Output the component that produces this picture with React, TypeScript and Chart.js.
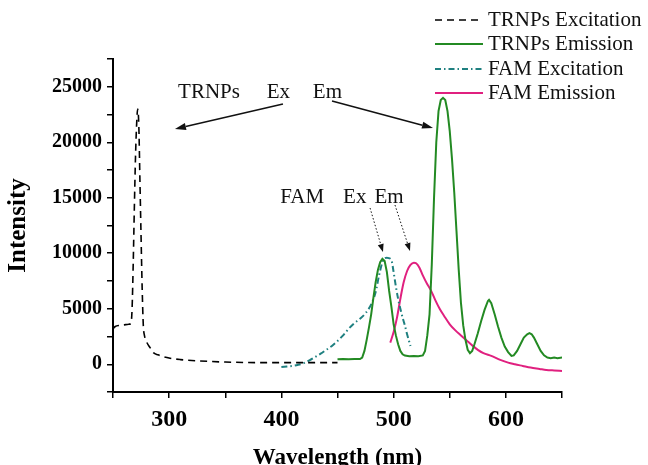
import React, { useEffect, useRef } from 'react';
import { Chart, registerables } from 'chart.js';

Chart.register(...registerables);

// ---------- data ----------
const trnpsExWl = [250, 252, 256, 260, 264, 266, 267, 268, 269, 270, 271, 272, 273, 274, 275, 276, 277, 278, 280, 283, 286, 290, 298, 310, 327, 350, 380, 410, 430, 450];
const trnpsExInt = [3200, 3400, 3500, 3550, 3600, 3700, 5000, 9000, 14000, 18500, 21500, 23000, 21500, 16500, 11500, 6800, 3500, 2600, 2000, 1500, 1050, 850, 600, 420, 300, 200, 150, 150, 150, 150];

const trnpsEmWl = [450, 455, 460, 465, 470, 472, 474, 476, 478, 480, 482, 484, 486, 488, 490, 492, 494, 496, 498, 500, 502, 504, 506, 508, 510, 514, 518, 522, 526, 528, 530, 532, 534, 536, 538, 540, 542, 544, 546, 548, 550, 552, 554, 556, 558, 560, 562, 564, 566, 568, 570, 572, 575, 578, 581, 584, 585, 587, 590, 593, 596, 599, 602, 605, 607, 610, 613, 616, 619, 621, 623, 625, 628, 631, 634, 637, 640, 643, 646, 650];
const trnpsEmInt = [450, 480, 450, 480, 470, 600, 1200, 2200, 3300, 4500, 6000, 7400, 8500, 9200, 9500, 9300, 8300, 6600, 5200, 3600, 2600, 1800, 1200, 900, 780, 720, 750, 720, 800, 1200, 2600, 4500, 9000, 15000, 20000, 22800, 23800, 24000, 23800, 22800, 21000, 18500, 15500, 12000, 8500, 5500, 3500, 2200, 1300, 1000, 1200, 1800, 2800, 3900, 4900, 5700, 5800, 5500, 4500, 3400, 2400, 1600, 1100, 750, 800, 1200, 1800, 2400, 2700, 2800, 2700, 2400, 1800, 1200, 800, 600, 550, 600, 550, 600];

const famExWl = [400, 405, 410, 415, 420, 425, 430, 435, 440, 445, 450, 455, 460, 465, 470, 475, 480, 484, 487, 490, 492, 494, 496, 498, 500, 502, 504, 506, 508, 510, 512, 515];
const famExInt = [-250, -200, -150, -50, 100, 350, 650, 950, 1300, 1650, 2100, 2600, 3200, 3700, 4100, 4600, 5400, 6500, 8000, 9200, 9550, 9600, 9550, 9400, 8300, 7000, 5900, 5000, 4200, 3500, 2700, 1650];

const famEmWl = [497, 500, 503, 506, 509, 512, 515, 518, 520, 523, 526, 530, 533, 537, 541, 545, 550, 555, 560, 565, 570, 575, 580, 587, 595, 602, 608, 615, 622, 630, 636, 643, 650];
const famEmInt = [1950, 2900, 4200, 5900, 7400, 8400, 8950, 9150, 9100, 8700, 8000, 7200, 6700, 5800, 5000, 4350, 3600, 3050, 2600, 2150, 1700, 1300, 1000, 750, 400, 150, 0, -150, -300, -420, -510, -560, -600];

const seriesNames = ['TRNPs Excitation', 'TRNPs Emission', 'FAM Excitation', 'FAM Emission'];
const xLabelTicks = [300, 400, 500, 600];
const yLabelTicks = [0, 5000, 10000, 15000, 20000, 25000];

const SERIF = "'Liberation Serif', 'Times New Roman', serif";
const BLACK = '#000000';
const GREEN = '#238a23';
const TEAL = '#1f8080';
const MAGENTA = '#e0207f';

const pts = (xs: number[], ys: number[]) => xs.map((x, i) => ({ x, y: ys[i] }));

function arrow(ctx: CanvasRenderingContext2D, x1: number, y1: number, x2: number, y2: number, dotted: boolean) {
  const ang = Math.atan2(y2 - y1, x2 - x1);
  const hl = dotted ? 8 : 11;
  const hw = dotted ? 3 : 3.5;
  const bx = x2 - hl * Math.cos(ang);
  const by = y2 - hl * Math.sin(ang);
  ctx.save();
  ctx.strokeStyle = '#111';
  ctx.fillStyle = '#111';
  ctx.lineWidth = dotted ? 1 : 1.5;
  ctx.setLineDash(dotted ? [1.5, 2] : []);
  ctx.beginPath();
  ctx.moveTo(x1, y1);
  ctx.lineTo(bx, by);
  ctx.stroke();
  ctx.setLineDash([]);
  ctx.beginPath();
  ctx.moveTo(x2, y2);
  ctx.lineTo(bx + hw * Math.sin(ang), by - hw * Math.cos(ang));
  ctx.lineTo(bx - hw * Math.sin(ang), by + hw * Math.cos(ang));
  ctx.closePath();
  ctx.fill();
  ctx.restore();
}

const decorPlugin = {
  id: 'decor',
  afterDraw(chart: any) {
    const ctx: CanvasRenderingContext2D = chart.ctx;
    const xs = chart.scales.x;
    const ys = chart.scales.y;
    const X = (v: number) => xs.getPixelForValue(v);
    const Y = (v: number) => ys.getPixelForValue(v);

    // annotations
    ctx.save();
    ctx.fillStyle = '#111';
    ctx.font = `21px ${SERIF}`;
    ctx.textBaseline = 'alphabetic';
    ctx.textAlign = 'left';
    ctx.fillText('TRNPs', X(308), Y(24000));
    ctx.fillText('Ex', X(387), Y(24000));
    ctx.fillText('Em', X(428), Y(24000));
    ctx.fillText('FAM', X(399), Y(14500));
    ctx.fillText('Ex', X(455), Y(14500));
    ctx.fillText('Em', X(483), Y(14500));
    ctx.restore();

    arrow(ctx, X(401.4), Y(23446), X(305.2), Y(21193), false);
    arrow(ctx, X(445.1), Y(23716), X(535.1), Y(21284), false);
    arrow(ctx, X(479), Y(14077), X(490.5), Y(10113), true);
    arrow(ctx, X(501.2), Y(14347), X(514.6), Y(10203), true);

    // legend
    const rowsY = [20, 44, 69, 93];
    ctx.save();
    chart.data.datasets.forEach((ds: any, i: number) => {
      const y = rowsY[i];
      ctx.strokeStyle = ds.borderColor;
      ctx.lineWidth = ds.borderWidth;
      ctx.setLineDash(ds.borderDash || []);
      ctx.beginPath();
      ctx.moveTo(435, y);
      ctx.lineTo(483, y);
      ctx.stroke();
      ctx.setLineDash([]);
      ctx.fillStyle = '#111';
      ctx.font = `21px ${SERIF}`;
      ctx.textBaseline = 'middle';
      ctx.textAlign = 'left';
      ctx.fillText(ds.label, 488, y);
    });
    ctx.restore();
  },
};

export default function App() {
  const ref = useRef<HTMLCanvasElement | null>(null);

  useEffect(() => {
    if (!ref.current) return;
    const chart = new Chart(ref.current, {
      type: 'line',
      data: {
        datasets: [
          {
            label: seriesNames[0],
            data: pts(trnpsExWl, trnpsExInt),
            borderColor: BLACK,
            borderWidth: 1.6,
            borderDash: [7, 5],
            pointRadius: 0,
            cubicInterpolationMode: 'monotone',
          },
          {
            label: seriesNames[1],
            data: pts(trnpsEmWl, trnpsEmInt),
            borderColor: GREEN,
            borderWidth: 2,
            pointRadius: 0,
            tension: 0,
          },
          {
            label: seriesNames[2],
            data: pts(famExWl, famExInt),
            borderColor: TEAL,
            borderWidth: 2,
            borderDash: [6, 3, 1.5, 3],
            pointRadius: 0,
            cubicInterpolationMode: 'monotone',
          },
          {
            label: seriesNames[3],
            data: pts(famEmWl, famEmInt),
            borderColor: MAGENTA,
            borderWidth: 2,
            pointRadius: 0,
            cubicInterpolationMode: 'monotone',
          },
        ],
      },
      options: {
        responsive: false,
        animation: false,
        devicePixelRatio: 1,
        layout: { padding: { left: 0, right: 86, top: 59, bottom: 0 } },
        plugins: { legend: { display: false }, tooltip: { enabled: false } },
        scales: {
          x: {
            type: 'linear',
            min: 250,
            max: 650,
            afterFit: (s: any) => { s.height = 73; },
            ticks: {
              stepSize: 50,
              autoSkip: false,
              maxRotation: 0,
              padding: 7,
              color: BLACK,
              font: { family: SERIF, size: 24, weight: 'bold' },
              callback: (v: any) => (xLabelTicks.includes(Number(v)) ? String(v) : ''),
            },
            grid: { drawOnChartArea: false, drawTicks: true, tickLength: 6, color: BLACK, lineWidth: 1.5 },
            border: { display: true, color: BLACK, width: 2 },
            title: {
              display: true,
              text: 'Wavelength (nm)',
              color: BLACK,
              font: { family: SERIF, size: 23, weight: 'bold', lineHeight: 1 },
              padding: { top: 0, bottom: -5 },
            },
          },
          y: {
            type: 'linear',
            min: -2500,
            max: 27500,
            afterFit: (s: any) => { s.width = 113; },
            ticks: {
              stepSize: 2500,
              autoSkip: false,
              padding: 5,
              color: BLACK,
              font: { family: SERIF, size: 20, weight: 'bold' },
              callback: (v: any) => (yLabelTicks.includes(Number(v)) ? String(v) : ''),
            },
            grid: { drawOnChartArea: false, drawTicks: true, tickLength: 6, color: BLACK, lineWidth: 1.5 },
            border: { display: true, color: BLACK, width: 2 },
            title: {
              display: true,
              text: 'Intensity',
              color: BLACK,
              font: { family: SERIF, size: 25, weight: 'bold', lineHeight: 1 },
              padding: { top: 6.5, bottom: 0 },
            },
          },
        },
      } as any,
      plugins: [decorPlugin],
    });
    return () => chart.destroy();
  }, []);

  return (
    <div style={{ position: 'fixed', left: 0, top: 0, width: 648, height: 465, background: '#fff' }}>
      <canvas ref={ref} width={648} height={465} />
    </div>
  );
}
